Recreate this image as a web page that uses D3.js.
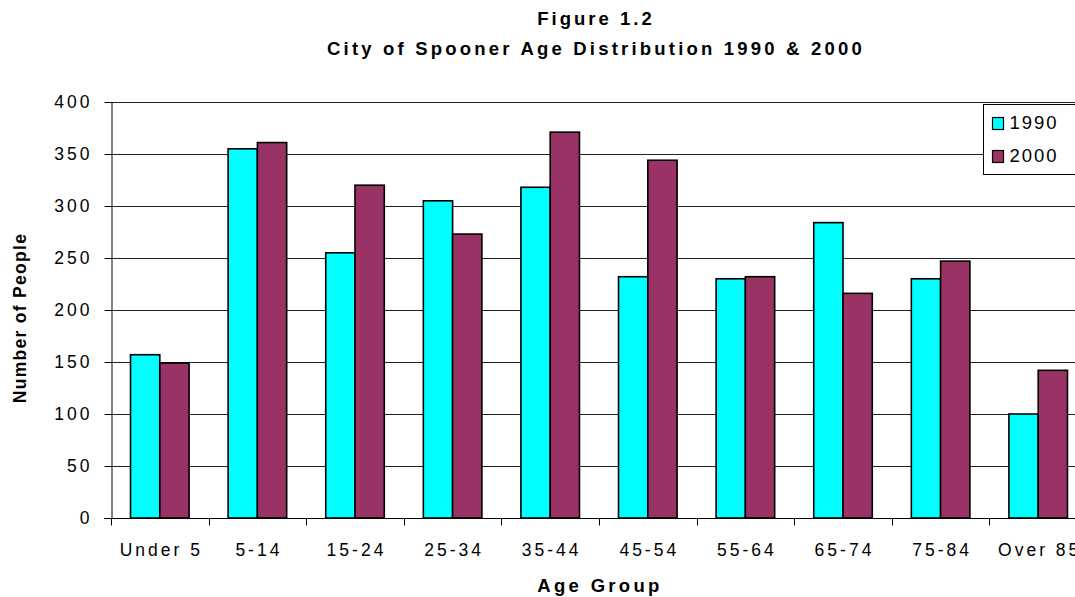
<!DOCTYPE html>
<html lang="en">
<head>
    <meta charset="UTF-8">
    <script src="https://cdn.jsdelivr.net/npm/d3@7"></script>
    <title>City of Spooner Age Distribution 1990 & 2000</title>
    <style>
        html,
        body {
            margin: 0px;
            padding: 0px;
            background-color: #ffffff;
            font-family: "Liberation Sans", Arial, sans-serif;
            color: #000;
        }
        #chart {
            width: 1075px;
            height: 597px;
            overflow: hidden;
        }
    </style>
</head>
<body>
    <div id="chart"></div>
    <script>

        let age_groups = ['Under 5', '5-14', '15-24', '25-34', '35-44', '45-54', '55-64', '65-74', '75-84', 'Over 85'];
        let years = ['1990', '2000'];
        let people_1990 = [157, 355, 255, 305, 318, 232, 230, 284, 230, 100];
        let people_2000 = [149, 361, 320, 273, 371, 344, 232, 216, 247, 142];
        let y_ticks = [0, 50, 100, 150, 200, 250, 300, 350, 400];

        let year_colour = { '1990': '#00ffff', '2000': '#993366' };

        let width = 1075;
        let height = 597;

        // the plot runs off the right side of the picture, like the original
        let margin = { top: 102, left: 111, bottom: 79 };
        let plot_right = 1087;

        let svg = d3.select('#chart').append('svg').attr('width', width).attr('height', height);

        let rows = age_groups.map((g, i) => ({ group: g, '1990': people_1990[i], '2000': people_2000[i] }));

        let x = d3.scaleBand()
            .domain(age_groups)
            .range([margin.left, plot_right])
            .paddingInner(0.4)
            .paddingOuter(0.2);

        let x_year = d3.scaleBand()
            .domain(years)
            .range([0, x.bandwidth()]);

        let y = d3.scaleLinear()
            .domain([0, 400])
            .range([height - margin.bottom, margin.top]);

        // gridlines
        svg.append('g')
            .selectAll('line')
            .data(y_ticks.filter(t => t > 0))
            .join('line')
            .attr('x1', margin.left)
            .attr('x2', plot_right)
            .attr('y1', d => Math.round(y(d)) + 0.5)
            .attr('y2', d => Math.round(y(d)) + 0.5)
            .attr('stroke', '#222')
            .attr('stroke-width', 1);

        // bars
        svg.append('g')
            .selectAll('g')
            .data(rows)
            .join('g')
            .attr('transform', d => `translate(${x(d.group)},0)`)
            .selectAll('rect')
            .data(d => years.map(yr => ({ year: yr, value: d[yr] })))
            .join('rect')
            .attr('x', d => x_year(d.year))
            .attr('y', d => y(d.value))
            .attr('width', x_year.bandwidth())
            .attr('height', d => y(0) - y(d.value))
            .attr('fill', d => year_colour[d.year])
            .attr('stroke', '#000')
            .attr('stroke-width', 1.6);

        // y axis
        let y_axis = svg.append('g')
            .attr('transform', `translate(${margin.left + 0.5},0)`)
            .call(d3.axisLeft(y).tickValues(y_ticks).tickSize(7).tickSizeOuter(0).tickPadding(15));
        y_axis.select('.domain').attr('stroke', '#000');
        y_axis.selectAll('.tick line').attr('stroke', '#000');
        y_axis.selectAll('.tick text')
            .attr('fill', '#000')
            .attr('font-family', '"Liberation Sans", Arial, sans-serif')
            .attr('font-size', 17.5)
            .attr('letter-spacing', '3px')
            .attr('dx', '3px');

        // x axis: line, ticks between groups, labels under groups
        let x_axis = svg.append('g').attr('transform', `translate(0,${y(0) + 0.5})`);
        x_axis.append('line')
            .attr('x1', margin.left - 7)
            .attr('x2', plot_right)
            .attr('stroke', '#000');
        x_axis.selectAll('.tick')
            .data(d3.range(age_groups.length + 1))
            .join('line')
            .attr('class', 'tick')
            .attr('x1', i => Math.round(margin.left + i * x.step()) + 0.5)
            .attr('x2', i => Math.round(margin.left + i * x.step()) + 0.5)
            .attr('y1', 0)
            .attr('y2', 7)
            .attr('stroke', '#000');
        x_axis.selectAll('text')
            .data(age_groups)
            .join('text')
            .attr('x', d => x(d) + x.bandwidth() / 2 + 1.5)
            .attr('y', 37)
            .attr('text-anchor', 'middle')
            .attr('font-size', 17.5)
            .attr('letter-spacing', '3px')
            .text(d => d);

        // titles
        svg.append('text')
            .attr('x', 596)
            .attr('y', 25)
            .attr('text-anchor', 'middle')
            .attr('font-size', 18.5)
            .attr('font-weight', 'bold')
            .attr('letter-spacing', '3px')
            .text('Figure 1.2');
        svg.append('text')
            .attr('x', 596)
            .attr('y', 55)
            .attr('text-anchor', 'middle')
            .attr('font-size', 18.5)
            .attr('font-weight', 'bold')
            .attr('letter-spacing', '3.2px')
            .text('City of Spooner Age Distribution 1990 & 2000');

        svg.append('text')
            .attr('x', 600)
            .attr('y', 592)
            .attr('text-anchor', 'middle')
            .attr('font-size', 18.5)
            .attr('font-weight', 'bold')
            .attr('letter-spacing', '3.3px')
            .text('Age Group');

        svg.append('text')
            .attr('transform', 'translate(26,318) rotate(-90)')
            .attr('text-anchor', 'middle')
            .attr('font-size', 17.5)
            .attr('font-weight', 'bold')
            .attr('letter-spacing', '1.3px')
            .text('Number of People');

        // legend
        let legend = svg.append('g').attr('transform', 'translate(983.5,104.5)');
        legend.append('rect')
            .attr('width', 110)
            .attr('height', 70)
            .attr('fill', '#fff')
            .attr('stroke', '#000');
        let legend_rows = legend.selectAll('g.item')
            .data(years)
            .join('g')
            .attr('class', 'item')
            .attr('transform', (d, i) => `translate(9,${13 + i * 33})`);
        legend_rows.append('rect')
            .attr('width', 11)
            .attr('height', 12)
            .attr('fill', d => year_colour[d])
            .attr('stroke', '#000')
            .attr('stroke-width', 1.2);
        legend_rows.append('text')
            .attr('x', 17)
            .attr('y', 11)
            .attr('font-size', 18.5)
            .attr('letter-spacing', '2px')
            .text(d => d);

    </script>
</body>
</html>
